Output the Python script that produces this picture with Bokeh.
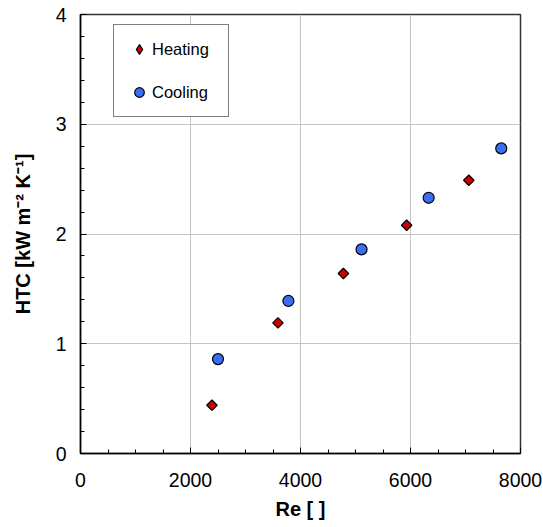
import numpy as np
from bokeh.plotting import figure
from bokeh.models import SingleIntervalTicker, Legend, LegendItem, Range1d
from bokeh.embed import file_html
from bokeh.resources import INLINE

# Data
heating_re = [2390, 3590, 4780, 5930, 7060]
heating_htc = [0.44, 1.19, 1.64, 2.08, 2.49]
cooling_re = [2500, 3780, 5110, 6330, 7650]
cooling_htc = [0.86, 1.39, 1.86, 2.33, 2.78]

series_labels = ["Heating", "Cooling"]
x_title = "Re [ ]"
y_title = "HTC [kW m\u207b\u00b2 K\u207b\u00b9]"

FONT = "Liberation Sans"
RED = "#D00000"
BLUE = "#3A6EF5"

p = figure(frame_width=440, frame_height=439,
           min_border_left=80, min_border_right=23,
           min_border_top=14, min_border_bottom=74,
           x_range=Range1d(0, 8000), y_range=Range1d(0, 4),
           output_backend="svg", toolbar_location=None)

p.xaxis.ticker = SingleIntervalTicker(interval=2000, num_minor_ticks=4)
p.yaxis.ticker = SingleIntervalTicker(interval=1, num_minor_ticks=5)

for ax in (p.xaxis, p.yaxis):
    ax.major_tick_in = 6
    ax.major_tick_out = 0
    ax.minor_tick_in = 4
    ax.minor_tick_out = 0
    ax.axis_line_color = "black"
    ax.axis_line_width = 1.5
    ax.major_tick_line_color = "black"
    ax.minor_tick_line_color = "black"
    ax.major_label_text_font = FONT
    ax.major_label_text_font_size = "19.5px"
    ax.major_label_text_color = "black"
    ax.axis_label_text_font = FONT
    ax.axis_label_text_font_size = "20px"
    ax.axis_label_text_font_style = "bold"
    ax.axis_label_text_color = "black"

p.xaxis.axis_label = x_title
p.yaxis.axis_label = y_title
p.xaxis.major_label_standoff = 19
p.yaxis.major_label_standoff = 14
p.xaxis.axis_label_standoff = 8
p.yaxis.axis_label_standoff = 19

p.grid.grid_line_color = "#c4c4c4"
p.grid.grid_line_width = 1
p.outline_line_color = "#333333"
p.outline_line_width = 1.5
p.background_fill_color = "white"
p.border_fill_color = "white"

rh = p.scatter(heating_re, heating_htc, marker="square", angle=np.pi / 4, size=7.4,
               fill_color=RED, line_color="black", line_width=1.2)
rc = p.scatter(cooling_re, cooling_htc, marker="circle", size=11,
               fill_color=BLUE, line_color="black", line_width=1.2)
# hidden renderer used only for the legend swatch (legend ignores marker angle)
rh_leg = p.scatter(heating_re, heating_htc, marker="diamond", size=10,
                   fill_color=RED, line_color="black", line_width=1.2, visible=False)

legend = Legend(items=[LegendItem(label=series_labels[0], renderers=[rh_leg]),
                       LegendItem(label=series_labels[1], renderers=[rc])],
                location=(33, 336))
legend.border_line_color = "black"
legend.border_line_width = 1
legend.background_fill_color = "white"
legend.background_fill_alpha = 1
legend.inactive_fill_alpha = 0
legend.padding = 12
legend.spacing = 19
legend.glyph_height = 24
legend.glyph_width = 26
legend.label_height = 24
legend.label_width = 64
legend.label_standoff = 0
legend.label_text_font = FONT
legend.label_text_font_size = "16.5px"
legend.label_text_color = "black"
legend.margin = 0
p.add_layout(legend, "center")

open("out.html", "w").write(file_html(p, INLINE))
